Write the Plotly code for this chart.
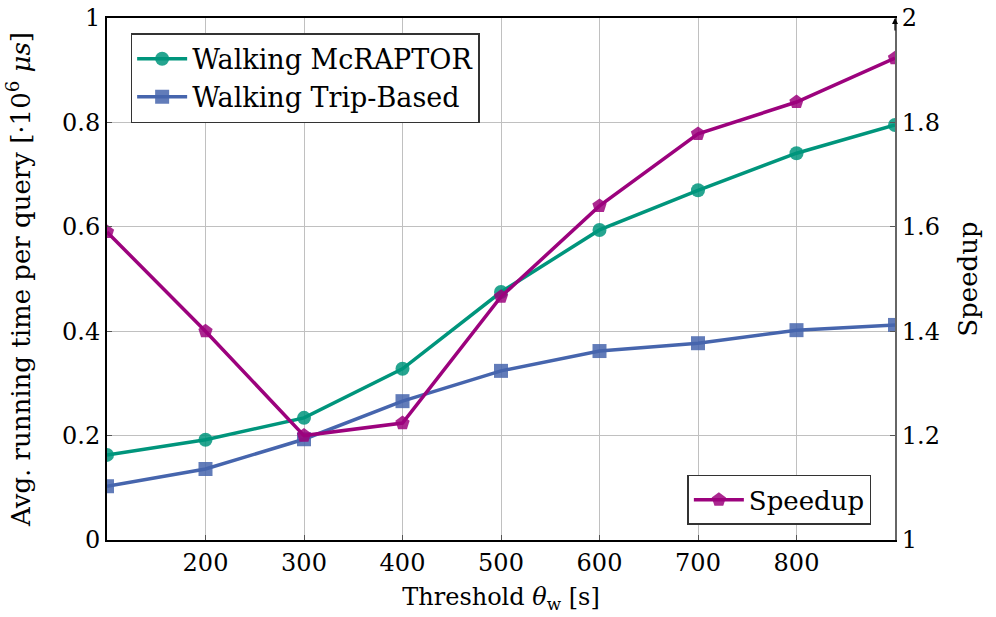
import plotly.graph_objects as go

thresholds = [100, 200, 300, 400, 500, 600, 700, 800, 900]
mcraptor = [0.163, 0.192, 0.234, 0.328, 0.475, 0.594, 0.670, 0.741, 0.795]
trip_based = [0.103, 0.136, 0.193, 0.266, 0.324, 0.362, 0.377, 0.402, 0.412]
speedup = [1.59, 1.40, 1.20, 1.224, 1.466, 1.64, 1.778, 1.839, 1.923]

x_ticks = [200, 300, 400, 500, 600, 700, 800]
y_left_ticks = [0, 0.2, 0.4, 0.6, 0.8, 1.0]
y_left_labels = ["0", "0.2", "0.4", "0.6", "0.8", "1"]
y_right_ticks = [1, 1.2, 1.4, 1.6, 1.8, 2.0]
y_right_labels = ["1", "1.2", "1.4", "1.6", "1.8", "2"]

TEAL = "#00957c"
BLUE = "#4665ad"
MAGENTA = "#9c027d"
FONT = "DejaVu Serif"

fig = go.Figure()
fig.add_trace(go.Scatter(
    x=thresholds, y=mcraptor, name="Walking McRAPTOR", mode="lines+markers",
    line=dict(color=TEAL, width=3.5),
    marker=dict(symbol="circle", size=14, color=TEAL, opacity=0.85, line=dict(width=0)),
    legend="legend", yaxis="y"))
fig.add_trace(go.Scatter(
    x=thresholds, y=trip_based, name="Walking Trip-Based", mode="lines+markers",
    line=dict(color=BLUE, width=3.5),
    marker=dict(symbol="square", size=14, color=BLUE, opacity=0.85, line=dict(width=0)),
    legend="legend", yaxis="y"))
fig.add_trace(go.Scatter(
    x=thresholds, y=speedup, name="Speedup", mode="lines+markers",
    line=dict(color=MAGENTA, width=3.5),
    marker=dict(symbol="pentagon", size=15, color=MAGENTA, opacity=0.85, line=dict(width=0)),
    legend="legend2", yaxis="y2"))

fig.update_layout(
    width=996, height=617,
    margin=dict(l=107, r=101, t=18, b=77, autoexpand=False),
    paper_bgcolor="white", plot_bgcolor="white",
    font=dict(family=FONT, size=24, color="black"),
    xaxis=dict(
        range=[100, 900], tickvals=x_ticks, ticktext=[str(v) for v in x_ticks],
        tickfont=dict(family=FONT, size=24),
        showgrid=True, gridcolor="#c0c0c0", gridwidth=1,
        showline=True, linecolor="black", linewidth=2, mirror=True,
        ticks="inside", ticklen=5, tickcolor="#555",
        zeroline=False, automargin=False,
        title=dict(text="Threshold <i>θ</i><sub>w</sub> [s]", font=dict(family=FONT, size=24), standoff=12),
    ),
    yaxis=dict(
        range=[0, 1], tickvals=y_left_ticks, ticktext=y_left_labels,
        tickfont=dict(family=FONT, size=24),
        showgrid=True, gridcolor="#c0c0c0", gridwidth=1,
        showline=True, linecolor="black", linewidth=2,
        ticks="inside", ticklen=5, tickcolor="#555",
        zeroline=False, automargin=False,
        title=dict(text="Avg. running time per query [·10<sup>6</sup> <i>μs</i>]", font=dict(family=FONT, size=26), standoff=24),
    ),
    yaxis2=dict(
        range=[1, 2], tickvals=y_right_ticks, ticktext=y_right_labels,
        tickfont=dict(family=FONT, size=24),
        overlaying="y", side="right",
        showgrid=False, showline=True, linecolor="#666", linewidth=2,
        ticks="inside", ticklen=5, tickcolor="#555",
        zeroline=False, automargin=False,
        title=dict(text="Speedup", font=dict(family=FONT, size=26), standoff=20),
    ),
    legend=dict(
        x=0.030, y=0.971, xanchor="left", yanchor="top",
        bgcolor="white", bordercolor="#333", borderwidth=1.5,
        font=dict(family=FONT, size=27), itemwidth=50, tracegroupgap=0,
    ),
    legend2=dict(
        x=0.970, y=0.029, xanchor="right", yanchor="bottom",
        bgcolor="white", bordercolor="#333", borderwidth=1.5,
        font=dict(family=FONT, size=26), itemwidth=50,
    ),
)

fig.add_annotation(x=1, y=1.0, xref="paper", yref="paper", ax=0, ay=14,
                   showarrow=True, arrowhead=2, arrowsize=1, arrowwidth=1.2,
                   arrowcolor="black", text="")

fig.write_html("out.html", config={"displayModeBar": False})
with open("out.html", encoding="utf-8") as f:
    html = f.read()
html = html.replace("<body>", '<body style="margin:0;padding:0;">', 1)
with open("out.html", "w", encoding="utf-8") as f:
    f.write(html)
